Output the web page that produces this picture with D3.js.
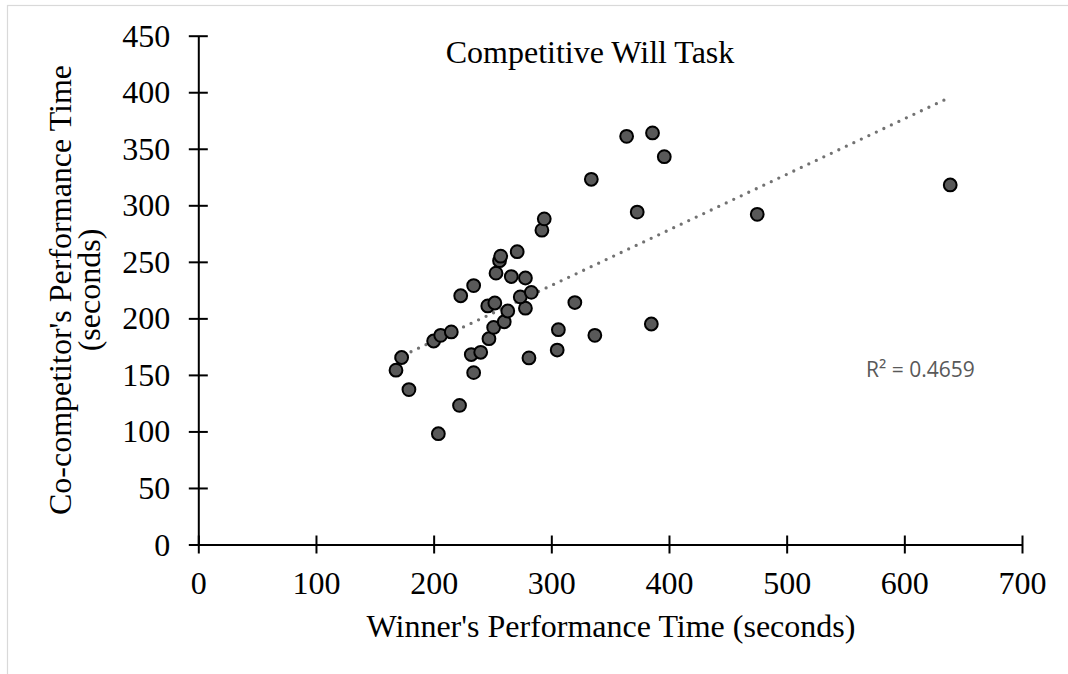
<!DOCTYPE html>
<html>
<head>
<meta charset="utf-8">
<script src="https://cdn.jsdelivr.net/npm/d3@7"></script>
<style>
  body { margin: 0; background: #fff; }
  svg { display: block; }
  text { font-family: "Liberation Serif", "Times New Roman", serif; fill: #000; }
</style>
</head>
<body>
<svg width="1068" height="674"></svg>
<script>
// Winner's time (x) and co-competitor's time (y), seconds
const winnerTimes = [172.8, 168, 179, 200, 206, 215, 232, 240, 234, 222, 204, 247, 251, 260, 263,
    246, 252, 278, 281, 306, 305, 320, 223, 234, 273.6, 283, 253, 266, 278, 256, 257, 271, 292,
    294, 334, 364, 386, 396, 373, 337, 385, 475, 639];
const coCompetitorTimes = [165.4, 154.2, 137, 180, 185, 188, 168, 170, 152, 123, 98, 182, 192, 197, 206.5,
    211, 213.6, 209, 165, 190, 172, 214, 220, 229, 219, 223, 240, 237, 235.7, 251, 255, 259, 278,
    288, 323, 361, 364, 343, 294, 185, 195, 292, 318];

const xTicks = [0, 100, 200, 300, 400, 500, 600, 700];
const yTicks = [0, 50, 100, 150, 200, 250, 300, 350, 400, 450];

const chartTitle = "Competitive Will Task";
const xTitle = "Winner's Performance Time (seconds)";
const yTitleLines = ["Co-competitor's Performance Time", "(seconds)"];
const r2Label = "R\u00b2 = 0.4659";

const svg = d3.select("svg");
const serif = "'Liberation Serif', 'Times New Roman', serif";

// chart frame (right and bottom edges fall outside the picture)
svg.append("rect")
    .attr("x", 7.5).attr("y", 5.5)
    .attr("width", 1080).attr("height", 700)
    .attr("fill", "none")
    .attr("stroke", "#d9d9d9")
    .attr("stroke-width", 1.2);

const x = d3.scaleLinear().domain([0, 700]).range([198.3, 1022]);
const y = d3.scaleLinear().domain([0, 450]).range([544.5, 35.7]);

// x axis, ticks crossing the line
svg.append("g")
    .attr("transform", `translate(0,${y(0)})`)
    .call(d3.axisBottom(x).tickValues(xTicks).tickSizeOuter(0).tickFormat(d3.format("d")))
    .call(g => g.select(".domain").attr("stroke", "#000").attr("stroke-width", 2))
    .call(g => g.selectAll(".tick line").attr("y1", -9).attr("y2", 9).attr("stroke-width", 2))
    .call(g => g.selectAll(".tick text")
        .attr("y", 49).attr("dy", 0)
        .style("font-size", "32px")
        .style("font-family", serif));

// y axis
svg.append("g")
    .attr("transform", `translate(${x(0)},0)`)
    .call(d3.axisLeft(y).tickValues(yTicks).tickSizeOuter(0).tickFormat(d3.format("d")))
    .call(g => g.select(".domain").attr("stroke", "#000").attr("stroke-width", 2))
    .call(g => g.selectAll(".tick line").attr("x1", -9.5).attr("x2", 9.5).attr("stroke-width", 2))
    .call(g => g.selectAll(".tick text")
        .attr("x", -28).attr("dy", "0.33em")
        .style("font-size", "32px")
        .style("font-family", serif));

// linear trendline (least squares), drawn across the data's x range
const mx = d3.mean(winnerTimes), my = d3.mean(coCompetitorTimes);
let sxy = 0, sxx = 0;
winnerTimes.forEach((v, i) => {
    sxy += (v - mx) * (coCompetitorTimes[i] - my);
    sxx += (v - mx) * (v - mx);
});
const slope = sxy / sxx;
const intercept = my - slope * mx;
const xExtent = d3.extent(winnerTimes);

svg.append("line")
    .attr("x1", x(xExtent[0])).attr("y1", y(intercept + slope * xExtent[0]))
    .attr("x2", x(xExtent[1])).attr("y2", y(intercept + slope * xExtent[1]))
    .attr("stroke", "#727272")
    .attr("stroke-width", 3.3)
    .attr("stroke-linecap", "round")
    .attr("stroke-dasharray", "0 8.3");

// points
const points = winnerTimes.map((v, i) => ({ x: v, y: coCompetitorTimes[i] }));
svg.selectAll(null)
    .data(points)
    .enter()
    .append("circle")
    .attr("cx", d => x(d.x))
    .attr("cy", d => y(d.y))
    .attr("r", 6.4)
    .attr("fill", "#595959")
    .attr("stroke", "#000")
    .attr("stroke-width", 2);

// R² label
svg.append("text")
    .attr("x", 866).attr("y", 377)
    .style("font-family", "'Open Sans', 'Noto Sans', sans-serif")
    .style("font-size", "21px")
    .style("fill", "#595959")
    .text(r2Label);

// titles
svg.append("text")
    .attr("x", 590).attr("y", 63)
    .attr("text-anchor", "middle")
    .style("font-size", "32px")
    .text(chartTitle);

svg.append("text")
    .attr("x", 611).attr("y", 637)
    .attr("text-anchor", "middle")
    .style("font-size", "32px")
    .text(xTitle);

svg.append("text")
    .attr("transform", "translate(71,290) rotate(-90)")
    .attr("text-anchor", "middle")
    .style("font-size", "32px")
    .selectAll("tspan")
    .data(yTitleLines)
    .enter()
    .append("tspan")
    .attr("x", 0)
    .attr("dy", (d, i) => i === 0 ? 0 : 29)
    .text(d => d);
</script>
</body>
</html>
